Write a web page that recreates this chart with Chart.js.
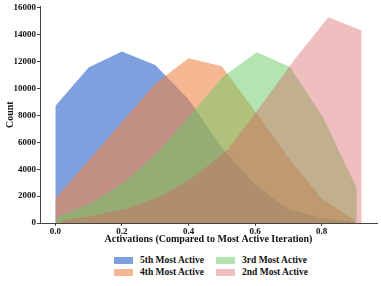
<!DOCTYPE html>
<html>
<head>
<meta charset="utf-8">
<script src="https://cdn.jsdelivr.net/npm/chart.js@4/dist/chart.umd.min.js"></script>
<style>
  body { margin: 0; background: #fff; }
  #wrap { position: relative; width: 381px; height: 286px; }
  #chartBox { position: absolute; left: 0; top: 0; width: 381px; height: 247px; }
  #legend {
    position: absolute; left: 114px; top: 255px;
    display: grid; grid-template-columns: 102px 120px; row-gap: 2px;
    font: bold 9.5px "Liberation Serif", serif; color: #111;
  }
  .item { display: flex; align-items: center; height: 10px; }
  .sw { width: 19px; height: 7px; margin-right: 7px; }
</style>
</head>
<body>
<div id="wrap">
  <div id="chartBox"><canvas id="c"></canvas></div>
  <div id="legend"></div>
</div>
<script>
// bin positions (activation ratio) per series
const binsFifth  = [0.0, 0.1, 0.2, 0.3, 0.4, 0.5, 0.6, 0.7, 0.8, 0.9];
const binsFourth = [0.0, 0.1, 0.2, 0.3, 0.4, 0.5, 0.6, 0.7, 0.8, 0.9];
const binsThird  = [0.005, 0.105, 0.205, 0.305, 0.405, 0.505, 0.605, 0.705, 0.805, 0.905];
const binsSecond = [0.02, 0.12, 0.22, 0.32, 0.42, 0.52, 0.62, 0.72, 0.82, 0.92];

// counts
const countFifth  = [8700, 11550, 12750, 11750, 9200, 5600, 2850, 1000, 350, 50];
const countFourth = [1800, 4650, 7500, 10350, 12250, 11650, 8300, 4850, 1800, 200];
const countThird  = [450, 1450, 3000, 5200, 8000, 10900, 12700, 11600, 7800, 2600];
const countSecond = [200, 570, 1100, 2050, 3500, 5500, 8800, 12200, 15300, 14300];

const seriesNames = ['5th Most Active', '4th Most Active', '3rd Most Active', '2nd Most Active'];
const seriesColors = ['rgba(72,120,208,0.7)', 'rgba(238,133,74,0.6)', 'rgba(106,204,100,0.5)', 'rgba(214,95,95,0.4)'];

const yTicks = [0, 2000, 4000, 6000, 8000, 10000, 12000, 14000, 16000];
const xTicks = [0.0, 0.2, 0.4, 0.6, 0.8];

const allBins = [binsFifth, binsFourth, binsThird, binsSecond];
const allCounts = [countFifth, countFourth, countThird, countSecond];

const datasets = seriesNames.map(function(name, i) {
  return {
    label: name,
    data: allBins[i].map((x, k) => ({ x: x, y: allCounts[i][k] })),
    backgroundColor: seriesColors[i],
    borderWidth: 0,
    pointRadius: 0,
    tension: 0,
    fill: 'origin',
    order: seriesNames.length - i   // first series drawn first, last on top
  };
});

const axisFont = { family: 'Liberation Serif', weight: 'bold', size: 9 };
const titleFont = { family: 'Liberation Serif', weight: 'bold', size: 10 };

new Chart(document.getElementById('c'), {
  type: 'line',
  data: { datasets: datasets },
  options: {
    responsive: true,
    maintainAspectRatio: false,
    animation: false,
    layout: { padding: { top: 5, right: 4, bottom: 0, left: 0 } },
    plugins: { legend: { display: false }, tooltip: { enabled: false } },
    scales: {
      x: {
        type: 'linear',
        min: -0.046,
        max: 0.966,
        afterBuildTicks: s => { s.ticks = xTicks.map(v => ({ value: v })); },
        afterFit: s => { s.height = 24; },
        ticks: { color: '#111', font: axisFont, padding: 0, maxRotation: 0,
                 callback: v => v.toFixed(1) },
        grid: { drawOnChartArea: false, tickLength: 3, color: '#444' },
        border: { color: '#444', width: 1 },
        title: { display: true, text: 'Activations (Compared to Most Active Iteration)',
                 color: '#111', font: titleFont, padding: { top: 0, bottom: 2 } }
      },
      y: {
        min: 0,
        max: 16100,
        afterBuildTicks: s => { s.ticks = yTicks.map(v => ({ value: v })); },
        afterFit: s => { s.width = 40; },
        ticks: { color: '#111', font: axisFont, padding: 1, callback: v => String(v) },
        grid: { drawOnChartArea: false, tickLength: 3, color: '#444' },
        border: { color: '#444', width: 1 },
        title: { display: true, text: 'Count', color: '#111', font: titleFont,
                 padding: { top: 4, bottom: 0 } }
      }
    }
  }
});

// legend laid out in two columns like the original
const legendOrder = [0, 2, 1, 3];
document.getElementById('legend').innerHTML = legendOrder.map(i =>
  '<div class="item"><span class="sw" style="background:' + seriesColors[i] + '"></span>' + seriesNames[i] + '</div>'
).join('');
</script>
</body>
</html>
